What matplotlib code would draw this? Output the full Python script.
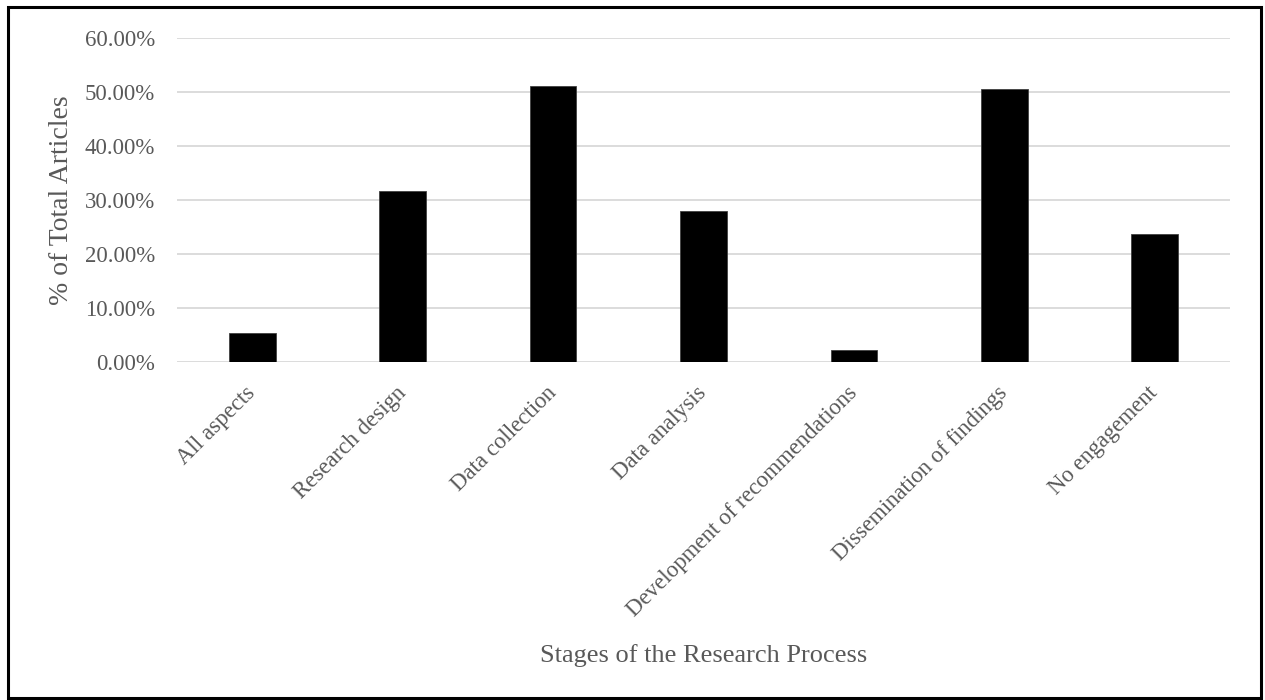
import matplotlib
matplotlib.use("Agg")
import matplotlib.pyplot as plt
from matplotlib.ticker import FuncFormatter
from matplotlib.patches import Rectangle

# data
stages = ["All aspects", "Research design", "Data collection", "Data analysis",
          "Development of recommendations", "Dissemination of findings", "No engagement"]
pct_articles = [5.36, 31.63, 51.06, 27.93, 2.16, 50.50, 23.62]
y_ticks = [0, 10, 20, 30, 40, 50, 60]

W, H = 1265, 700
txt_col = "#595959"
plt.rcParams["font.family"] = ["Liberation Serif", "DejaVu Serif"]

fig = plt.figure(figsize=(W / 100, H / 100), dpi=100)
ax = fig.add_axes([177 / W, (H - 362) / H, (1230 - 177) / W, (362 - 38) / H])

x = range(len(stages))
ax.bar(x, pct_articles, width=0.31, color="black", edgecolor="#404040", linewidth=0.6, zorder=3)

ax.set_xlim(-0.5, len(stages) - 0.5)
ax.set_ylim(y_ticks[0], y_ticks[-1])
ax.set_yticks(y_ticks)
ax.yaxis.set_major_formatter(FuncFormatter(lambda v, p: f"{v:.2f}%"))
ax.grid(axis="y", color="#d9d9d9", linewidth=1.3, zorder=0)
for s in ax.spines.values():
    s.set_visible(False)

ax.set_xticks(list(x))
ax.set_xticklabels(stages, rotation=45, ha="right", va="center",
                   rotation_mode="anchor", fontsize=16.5, color=txt_col)
ax.tick_params(axis="x", length=0, pad=20)
ax.tick_params(axis="y", length=0, pad=16, labelsize=16.5, labelcolor=txt_col)

ax.set_ylabel("% of Total Articles", fontsize=20, color=txt_col)
ax.yaxis.set_label_coords(-0.098, 0.5)
ax.set_xlabel("Stages of the Research Process", fontsize=19, color=txt_col)
ax.xaxis.set_label_coords(0.5, (362 - 644) / 324)
ax.xaxis.label.set_va("top")

# outer frame around the chart
fig.patches.append(Rectangle((8 / W, 1 - 698 / H), (1261 - 8) / W, (698 - 7) / H,
                             transform=fig.transFigure, fill=False,
                             edgecolor="black", linewidth=2.2))

fig.savefig("out.png", dpi=100)
